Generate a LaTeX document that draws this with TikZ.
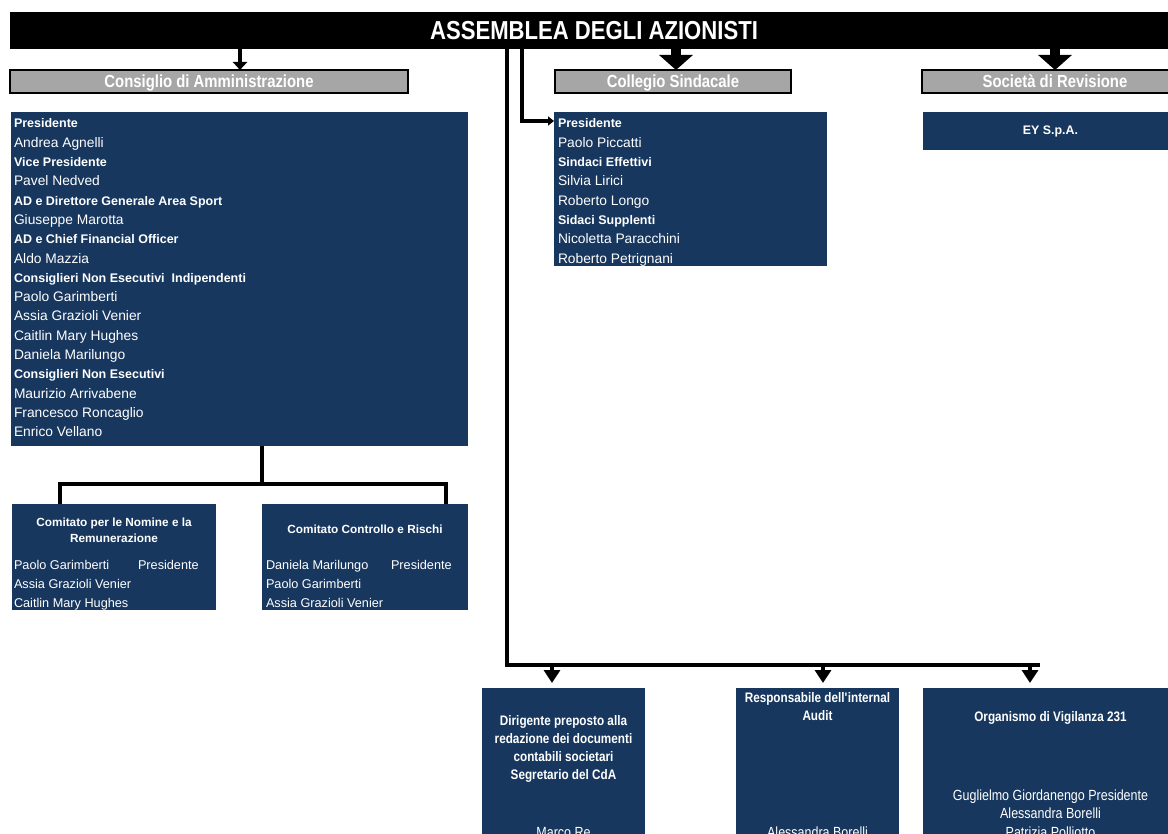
\documentclass[tikz,border=0pt]{standalone}
\usepackage{fontspec}
\setmainfont{Liberation Sans}
\newfontfamily\condfont[FakeStretch=0.85]{Liberation Sans}
\usetikzlibrary{arrows.meta}
\definecolor{navy}{RGB}{23,55,94}
\definecolor{headgray}{RGB}{166,166,166}
\newcommand\rowb{\bfseries\fontsize{12.5}{15}\selectfont}
\newcommand\rowr{\fontsize{13.8}{16}\selectfont}
\tikzset{every node/.style={inner sep=0pt, outer sep=0pt}}
\tikzset{
  bluebox/.style={rectangle, fill=navy, text=white},
  headbox/.style={rectangle, fill=headgray, draw=black, line width=1.5pt, minimum height=23,
    text height=12.5pt, text depth=0pt,
    text=white, font=\condfont\bfseries\fontsize{17.5}{20}\selectfont},
  rowtext/.style={anchor=base west, text=white},
  comtitle/.style={text=white, align=center, font=\bfseries\fontsize{11.8}{16}\selectfont},
  comrow/.style={anchor=base west, text=white, font=\fontsize{12.7}{15}\selectfont},
  bottitle/.style={text=white, align=center, font=\condfont\bfseries\fontsize{13.8}{18}\selectfont},
  botname/.style={anchor=base, text=white, font=\condfont\fontsize{14.7}{18}\selectfont},
  conn/.style={line width=4.5pt},
  smallarrow/.style={line width=4pt, -{Triangle[width=14pt,length=8pt]}},
  bigarrow/.style={line width=10pt, -{Triangle[width=33pt,length=15pt]}},
  sidearrow/.style={line width=4pt, -{Triangle[width=9pt,length=6pt]}},
  botarrow/.style={line width=4.5pt, -{Triangle[width=16pt,length=13pt]}}
}

\begin{document}
\begin{tikzpicture}[x=1pt,y=-1pt]
    \useasboundingbox (0,0) rectangle (1168,834);
    \clip (0,0) rectangle (1168,834);

    % top bar
    \node[fill=black, minimum width=1168, minimum height=37, text=white, text height=18.6pt, text depth=0pt,
      font=\condfont\bfseries\fontsize{26}{30}\selectfont] (AssembleaBar) at (594,30.5) {ASSEMBLEA DEGLI AZIONISTI};

    % grey headers
    \node[headbox, minimum width=398] (CdaHead) at (209,81.5) {Consiglio di Amministrazione};
    \node[headbox, minimum width=236] (CsHead) at (673,81.5) {Collegio Sindacale};
    \node[headbox, minimum width=266] (SrHead) at (1055,81.5) {Società di Revisione};

    % blue boxes
    \node[bluebox, minimum width=457, minimum height=334] (CdaBox) at (239.5,279) {};
    \node[bluebox, minimum width=273, minimum height=154] (CsBox) at (690.5,189) {};
    \node[bluebox, minimum width=255, minimum height=38, font=\bfseries\fontsize{12.4}{15}\selectfont] (EyBox) at (1050.5,131) {EY S.p.A.};
    \node[bluebox, minimum width=204, minimum height=106] (CnrBox) at (114,557) {};
    \node[bluebox, minimum width=206, minimum height=106] (CcrBox) at (365,557) {};
    \node[bluebox, minimum width=163, minimum height=162] (DirBox) at (563.5,769) {};
    \node[bluebox, minimum width=163, minimum height=162] (AuditBox) at (817.5,769) {};
    \node[bluebox, minimum width=255, minimum height=162] (OdvBox) at (1050.5,769) {};

    % board members
    \foreach \kind/\txt [count=\i] in {b/Presidente, r/Andrea Agnelli, b/Vice Presidente, r/Pavel Nedved,
      b/AD e Direttore Generale Area Sport, r/Giuseppe Marotta, b/AD e Chief Financial Officer, r/Aldo Mazzia,
      b/Consiglieri Non Esecutivi\ \ Indipendenti, r/Paolo Garimberti, r/Assia Grazioli Venier,
      r/Caitlin Mary Hughes, r/Daniela Marilungo, b/Consiglieri Non Esecutivi, r/Maurizio Arrivabene,
      r/Francesco Roncaglio, r/Enrico Vellano}
      \node[rowtext] (CdaRow\i) at (14,{128+(\i-1)*19.3}) {\csname row\kind\endcsname\txt};

    % statutory auditors
    \foreach \kind/\txt [count=\i] in {b/Presidente, r/Paolo Piccatti, b/Sindaci Effettivi, r/Silvia Lirici,
      r/Roberto Longo, b/Sidaci Supplenti, r/Nicoletta Paracchini, r/Roberto Petrignani}
      \node[rowtext] (CsRow\i) at (558,{128+(\i-1)*19.3}) {\csname row\kind\endcsname\txt};

    % committees
    \node[comtitle] (CnrTitle) at (114,530) {Comitato per le Nomine e la\\Remunerazione};
    \node[comrow] (CnrRow1) at (14,569.5) {Paolo Garimberti};
    \node[comrow] (CnrPres) at (138,569.5) {Presidente};
    \node[comrow] (CnrRow2) at (14,588.5) {Assia Grazioli Venier};
    \node[comrow] (CnrRow3) at (14,607.5) {Caitlin Mary Hughes};

    \node[comtitle] (CcrTitle) at (365,529) {Comitato Controllo e Rischi};
    \node[comrow] (CcrRow1) at (266,569.5) {Daniela Marilungo};
    \node[comrow] (CcrPres) at (391,569.5) {Presidente};
    \node[comrow] (CcrRow2) at (266,588.5) {Paolo Garimberti};
    \node[comrow] (CcrRow3) at (266,607.5) {Assia Grazioli Venier};

    % bottom boxes
    \node[bottitle] (DirTitle) at (563.5,749) {Dirigente preposto alla\\redazione dei documenti\\contabili societari\\Segretario del CdA};
    \node[botname] (DirName) at (563.5,837) {Marco Re};
    \node[bottitle] (AuditTitle) at (817.5,706.5) {Responsabile dell\textquotesingle internal\\Audit};
    \node[botname] (AuditName) at (817.5,837) {Alessandra Borelli};
    \node[bottitle] (OdvTitle) at (1050.5,718) {Organismo di Vigilanza 231};
    \node[botname] (OdvName1) at (1050.5,800) {Guglielmo Giordanengo Presidente};
    \node[botname] (OdvName2) at (1050.5,818.5) {Alessandra Borelli};
    \node[botname] (OdvName3) at (1050.5,837) {Patrizia Polliotto};

    % arrows from the assembly
    \coordinate (CdaIn) at ([xshift=31pt]CdaHead.north);
    \coordinate (CsIn) at ([xshift=3pt]CsHead.north);
    \draw[smallarrow] (CdaIn |- AssembleaBar.south) -- (CdaIn);
    \draw[bigarrow] (CsIn |- AssembleaBar.south) -- (CsIn);
    \draw[bigarrow] (SrHead.north |- AssembleaBar.south) -- (SrHead.north);

    \coordinate (CsTurn) at (522,121);
    \draw[sidearrow] (CsTurn |- AssembleaBar.south) -- (CsTurn) -- (CsBox.west |- CsTurn);

    % committees tree
    \coordinate (TreeJoin) at (262,484);
    \coordinate (TreeL) at (60,484);
    \coordinate (TreeR) at (446,484);
    \draw[conn] (TreeJoin |- CdaBox.south) -- (TreeJoin);
    \draw[conn] (TreeL |- CnrBox.north) -- (TreeL) -- (TreeR) -- (TreeR |- CcrBox.north);

    % bus to the control functions
    \coordinate (BusCorner) at (507,665);
    \coordinate (BusEnd) at (1040,665);
    \draw[conn] (BusCorner |- AssembleaBar.south) -- (BusCorner) -- (BusEnd);
    \coordinate (DirIn) at ([xshift=-11.5pt,yshift=5pt]DirBox.north);
    \coordinate (AuditIn) at ([xshift=5.5pt,yshift=5pt]AuditBox.north);
    \coordinate (OdvIn) at ([xshift=-20.5pt,yshift=5pt]OdvBox.north);
    \draw[botarrow] (DirIn |- BusCorner) -- (DirIn);
    \draw[botarrow] (AuditIn |- BusCorner) -- (AuditIn);
    \draw[botarrow] (OdvIn |- BusCorner) -- (OdvIn);

\end{tikzpicture}
\end{document}
